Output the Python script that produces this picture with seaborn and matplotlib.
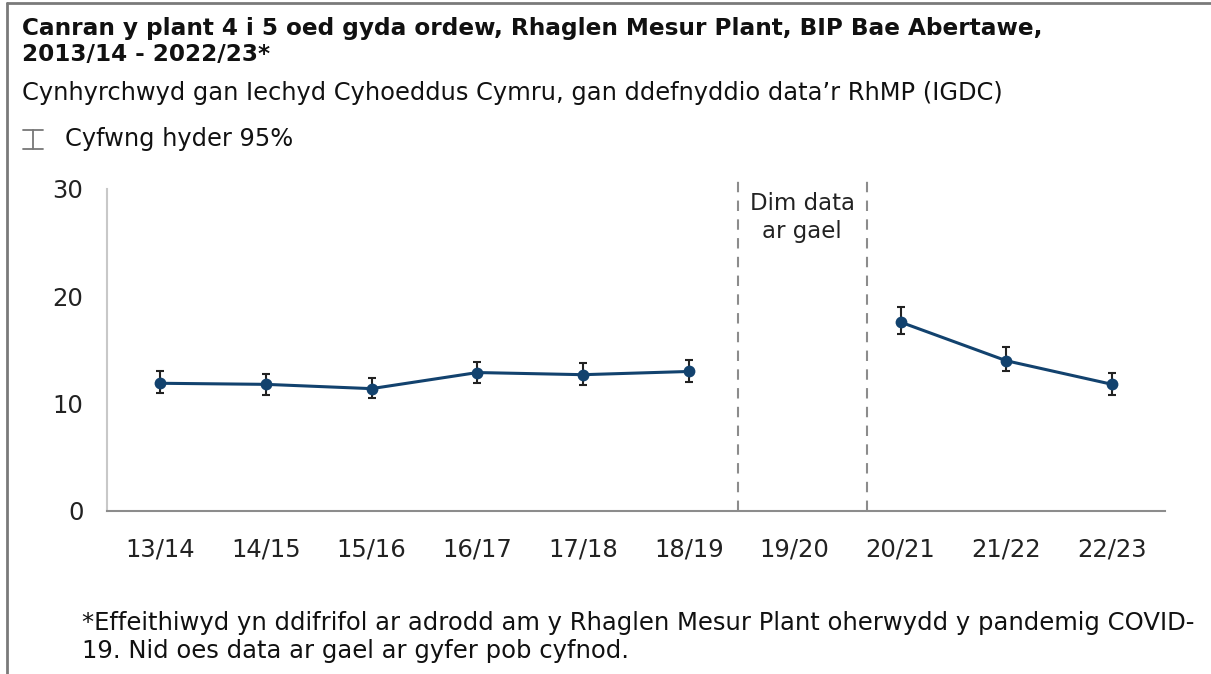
import numpy as np
import pandas as pd
import matplotlib
matplotlib.use("Agg")
import matplotlib.pyplot as plt
from matplotlib.lines import Line2D
import seaborn as sns

periods = ["13/14", "14/15", "15/16", "16/17", "17/18", "18/19", "19/20", "20/21", "21/22", "22/23"]
values = [11.9, 11.8, 11.4, 12.9, 12.7, 13.0, np.nan, 17.6, 14.0, 11.8]
ci_lower = [11.0, 10.8, 10.5, 11.9, 11.7, 12.0, np.nan, 16.5, 13.0, 10.8]
ci_upper = [13.0, 12.8, 12.4, 13.9, 13.8, 14.1, np.nan, 19.0, 15.3, 12.9]
segment = [1, 1, 1, 1, 1, 1, 0, 2, 2, 2]

title = "Canran y plant 4 i 5 oed gyda ordew, Rhaglen Mesur Plant, BIP Bae Abertawe,\n2013/14 - 2022/23*"
subtitle = "Cynhyrchwyd gan Iechyd Cyhoeddus Cymru, gan ddefnyddio data\u2019r RhMP (IGDC)"
legend_label = "Cyfwng hyder 95%"
no_data_label = "Dim data\nar gael"
footnote = ("*Effeithiwyd yn ddifrifol ar adrodd am y Rhaglen Mesur Plant oherwydd y pandemig COVID-\n"
            "19. Nid oes data ar gael ar gyfer pob cyfnod.")

sns.set_theme(style="white")
plt.rcParams['font.family'] = ['DejaVu Sans']

df = pd.DataFrame({"pos": np.arange(len(periods)), "period": periods, "value": values,
                   "lo": ci_lower, "hi": ci_upper, "segment": segment})
d = df.dropna()

line_color = "#12426e"
fig = plt.figure(figsize=(12.11, 6.74), dpi=100)
ax = fig.add_axes([107/1211, 1-511/674, (1165-107)/1211, (511-189)/674])

sns.lineplot(data=d, x="pos", y="value", units="segment", estimator=None, ax=ax,
             color=line_color, linewidth=2.2, marker="o", markersize=8.5,
             markeredgewidth=0, legend=False, zorder=3)
ax.errorbar(d["pos"], d["value"], yerr=[d["value"] - d["lo"], d["hi"] - d["value"]],
            fmt="none", ecolor="#222222", elinewidth=1.5, capsize=3, capthick=1.5, zorder=2)

ax.set_xlim(-0.5, len(periods) - 0.5)
ax.set_ylim(0, 30)
ax.set_yticks([0, 10, 20, 30])
ax.set_xticks(np.arange(len(periods)))
ax.set_xticklabels(periods)
ax.set_xlabel("")
ax.set_ylabel("")
ax.tick_params(axis="both", length=0, labelsize=17.5, colors="#222222")
ax.tick_params(axis="y", pad=17)
ax.tick_params(axis="x", pad=19)
for s in ["top", "right"]:
    ax.spines[s].set_visible(False)
ax.spines["left"].set_color("#c8c8c8")
ax.spines["left"].set_linewidth(1.5)
ax.spines["bottom"].set_color("#8c8c8c")
ax.spines["bottom"].set_linewidth(1.5)

for xv in [5.46, 6.68]:
    ax.vlines(xv, 0, 30.8, colors="#8c8c8c", linestyles=(0, (5, 4)), linewidth=1.5, clip_on=False)
ax.text(6.07, 29.7, no_data_label, ha="center", va="top", fontsize=16.5, color="#222222",
        linespacing=1.25)

fig.text(22/1211, 1-17/674, title, ha="left", va="top", fontsize=16.7, fontweight="bold",
         color="#111111", linespacing=1.15)
fig.text(22/1211, 1-81/674, subtitle, ha="left", va="top", fontsize=17.4, color="#111111")
fig.text(65/1211, 1-127/674, legend_label, ha="left", va="top", fontsize=17.4, color="#111111")
# legend glyph (error bar symbol)
gx0, gx1, gxm = 23/1211, 43/1211, 33/1211
gy0, gy1 = 1-130/674, 1-149/674
for art in [Line2D([gxm, gxm], [gy0, gy1]), Line2D([gx0, gx1], [gy0, gy0]), Line2D([gx0, gx1], [gy1, gy1])]:
    art.set_color("#777777"); art.set_linewidth(1.3); art.set_transform(fig.transFigure)
    fig.add_artist(art)

fig.text(82/1211, 1-611/674, footnote, ha="left", va="top", fontsize=17.5, color="#111111",
         linespacing=1.2)

# frame lines
for art in [Line2D([7/1211, 7/1211], [0, 1-3/674]), Line2D([7/1211, 1], [1-3/674, 1-3/674])]:
    art.set_color("#7a7a7a"); art.set_linewidth(2); art.set_transform(fig.transFigure)
    fig.add_artist(art)

fig.savefig("out.png", dpi=100)
